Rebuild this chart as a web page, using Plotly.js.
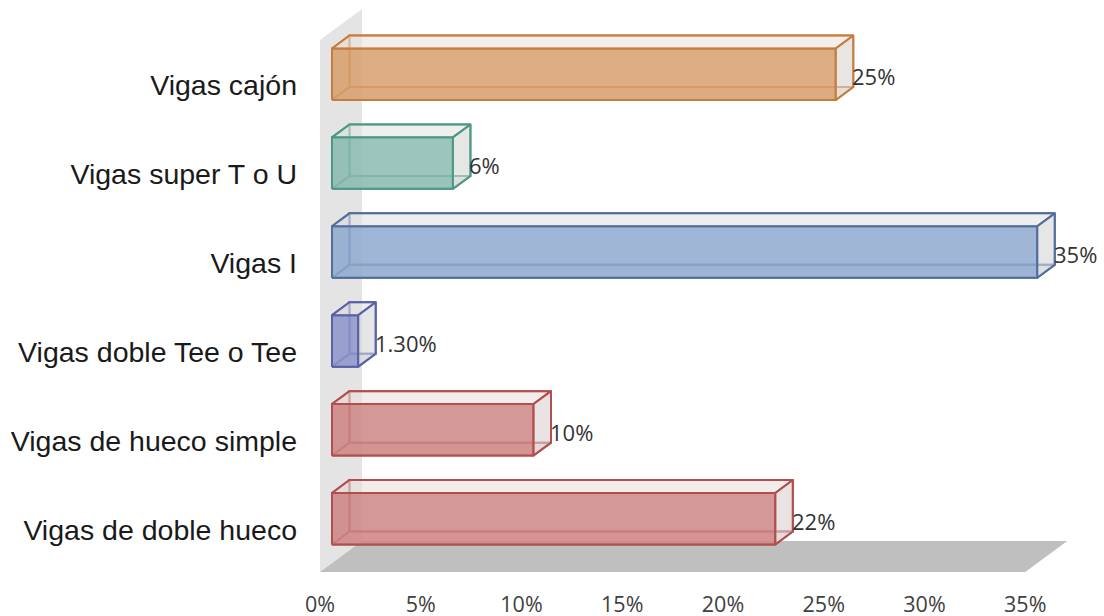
<!DOCTYPE html>
<html><head><meta charset="utf-8">
<script src="https://cdn.plot.ly/plotly-3.0.1.min.js"></script>
<style>html,body{margin:0;padding:0;background:#fff}#chart{width:1104px;height:616px}</style>
</head><body><div id="chart"></div>
<script>
// ---- data (top to bottom as displayed) ----
const categories = ["Vigas cajón", "Vigas super T o U", "Vigas I", "Vigas doble Tee o Tee", "Vigas de hueco simple", "Vigas de doble hueco"];
const values = [25, 6, 35, 1.3, 10, 22];
const valueLabels = ["25%", "6%", "35%", "1.30%", "10%", "22%"];
const xTickVals = [0, 5, 10, 15, 20, 25, 30, 35];
const xTickText = ["0%", "5%", "10%", "15%", "20%", "25%", "30%", "35%"];

// ---- styles ----
const faceColors = [[221,174,131],[156,197,187],[160,182,214],[160,166,210],[213,152,152],[213,152,152]];
const edgeColors = ["#C47D3D", "#4E9686", "#546E9C", "#5A62A6", "#B24E4E", "#B24E4E"];

// ---- geometry (pixels) ----
const W = 1104, H = 616, ML = 300, MR = 0, MT = 0, MB = 44;
const PXX = 20.15;          // px per 1 %
const X0PIX = 320;          // pixel of 0 % at the front of the floor
const PXY = 88.9;           // px per category step
const DEP_X = 42, DEP_Y = 31;   // full depth vector of the walls (px)
const D_FRONT = 12 / 42, D_BACK = 29.5 / 42;
const BAR_PX = 51.5;
const WALL_TOP_PX = 532;    // wall height above floor front edge (px)

const xmin = -(X0PIX - ML) / PXX;
const xmax = xmin + (W - ML - MR) / PXX;
const ymin = -0.5;
const ymax = ymin + (H - MT - MB) / PXY;

function P(v, y, d) { return [v + d * DEP_X / PXX, y + d * DEP_Y / PXY]; }
function rgbaFor(obs, a) {
  const c = obs.map(o => Math.max(0, Math.min(255, Math.round((o - (1 - a) * 255) / a))));
  return `rgba(${c[0]},${c[1]},${c[2]},${a})`;
}
function mix(c, g, t) { return c.map((x, i) => Math.round(x * t + g[i] * (1 - t))); }

const traces = [];
function poly(pts, fill, line, lw) {
  const xs = pts.map(p => p[0]).concat([pts[0][0]]);
  const ys = pts.map(p => p[1]).concat([pts[0][1]]);
  traces.push({
    type: "scatter", mode: "lines", x: xs, y: ys,
    fill: fill ? "toself" : "none", fillcolor: fill || "rgba(0,0,0,0)",
    line: { color: line || "rgba(0,0,0,0)", width: lw || 0 },
    hoverinfo: "skip", showlegend: false
  });
}

// wall and floor
const n = categories.length;
const wallTop = ymin + WALL_TOP_PX / PXY;
poly([P(0, ymin, 0), P(0, wallTop, 0), P(0, wallTop, 1), P(0, ymin, 1)], "rgb(228,228,228)", null, 0);
poly([P(0, ymin, 0), P(xTickVals[xTickVals.length - 1], ymin, 0), P(xTickVals[xTickVals.length - 1], ymin, 1), P(0, ymin, 1)], "rgb(191,191,191)", null, 0);

// bars
const annotations = [];
categories.forEach((cat, k) => {
  const i = n - 1 - k;
  const v = values[k];
  const hb = BAR_PX / 2 / PXY;
  const yb = i - hb, yt = i + hb;
  const FBL = P(0, yb, D_FRONT), FBR = P(v, yb, D_FRONT), FTR = P(v, yt, D_FRONT), FTL = P(0, yt, D_FRONT);
  const BBL = P(0, yb, D_BACK), BBR = P(v, yb, D_BACK), BTR = P(v, yt, D_BACK), BTL = P(0, yt, D_BACK);
  const fc = faceColors[k], ec = edgeColors[k];
  const lw = 2;
  poly([BBL, BBR, BTR, BTL], null, ec, lw);                         // back
  poly([FBL, BBL, BTL, FTL], rgbaFor(mix(fc, [255,255,255], 0.25), 0.3), ec, lw); // left
  poly([FBL, FBR, BBR, BBL], rgbaFor(mix(fc, [255,255,255], 0.25), 0.3), ec, lw); // bottom
  poly([FBL, FBR, FTR, FTL], rgbaFor(fc, 0.85), ec, lw);             // front
  poly([FTL, FTR, BTR, BTL], rgbaFor(mix(fc, [244,242,240], 0.06), 0.6), ec, lw); // top
  poly([FBR, BBR, BTR, FTR], rgbaFor(mix(fc, [234,233,232], 0.06), 0.6), ec, lw); // right
  const lab = P(v, i, D_BACK);
  annotations.push({
    x: lab[0], y: lab[1] - (D_BACK - D_FRONT) * DEP_Y / PXY, xref: "x", yref: "y",
    text: valueLabels[k], showarrow: false, xanchor: "left", yanchor: "middle",
    xshift: -3, yshift: -2, font: { family: "Open Sans, sans-serif", size: 22, color: "#333333" }
  });
});

const layout = {
  width: W, height: H,
  margin: { l: ML, r: MR, t: MT, b: MB, pad: 0 },
  paper_bgcolor: "#ffffff", plot_bgcolor: "rgba(0,0,0,0)",
  showlegend: false,
  xaxis: {
    range: [xmin, xmax], tickvals: xTickVals, ticktext: xTickText,
    showgrid: false, zeroline: false, showline: false, ticks: "",
    tickfont: { family: "Open Sans, sans-serif", size: 21.5, color: "#404040" },
    ticklabelstandoff: 17, fixedrange: true
  },
  yaxis: {
    range: [ymin, ymax], tickvals: categories.map((c, k) => n - 1 - k), ticktext: categories,
    showgrid: false, zeroline: false, showline: false, ticks: "",
    tickfont: { family: "Liberation Sans, Arial, sans-serif", size: 28.5, color: "#1a1a1a" },
    ticklabelstandoff: 2, ticklabelshift: 2, fixedrange: true
  },
  annotations: annotations
};

Plotly.newPlot("chart", traces, layout, { staticPlot: true, displayModeBar: false });
</script>
</body></html>
